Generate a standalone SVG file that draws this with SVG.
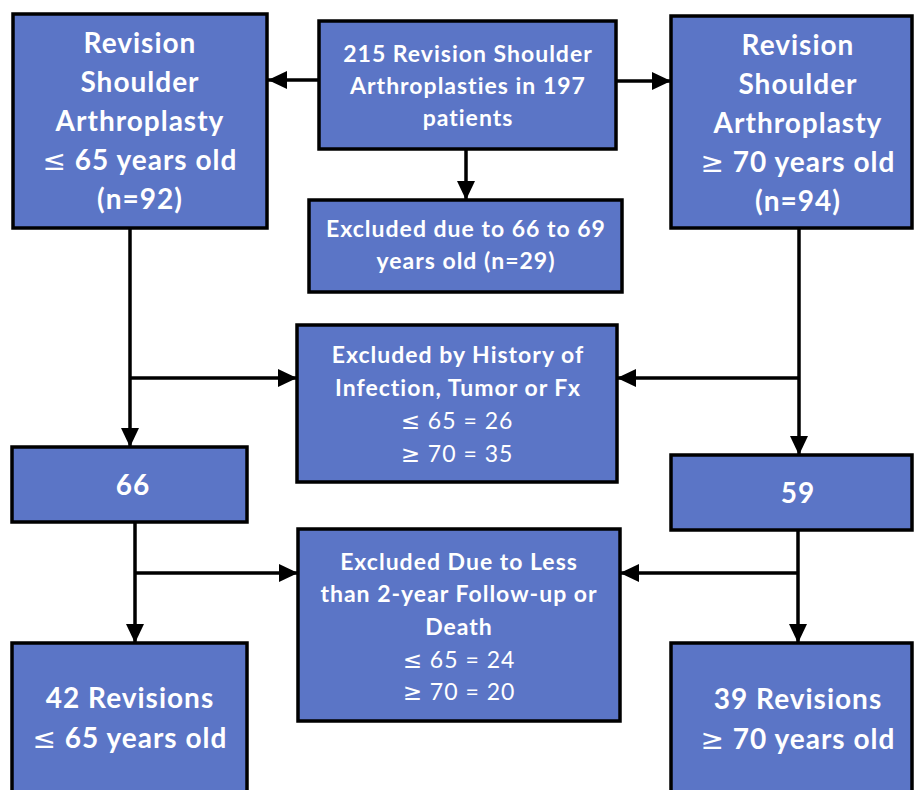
<svg xmlns="http://www.w3.org/2000/svg" width="915" height="790" viewBox="0 0 915 790">
<defs>
<marker id="ah" markerUnits="userSpaceOnUse" markerWidth="20" markerHeight="18" refX="19" refY="9" orient="auto">
<path d="M0,0 L19,9 L0,18 Z" fill="#000"/>
</marker>
<style>
.box{fill:#5B75C6;stroke:#000;stroke-width:3.5}
.t{font-family:Lato,"Liberation Sans",sans-serif;font-weight:bold;fill:#fff;text-anchor:middle}
.big{font-size:28px;letter-spacing:1px}
.sm{font-size:23px;letter-spacing:1px}
.reg{font-weight:normal}
.sym{font-family:"DejaVu Sans",sans-serif;font-weight:normal}
.c{fill:none;stroke:#000;stroke-width:3.5}
</style>
</defs>
<rect width="915" height="790" fill="#fff"/>
<g id="connectors">
<path class="c" d="M319,80 L268,80" marker-end="url(#ah)"/>
<path class="c" d="M617,81 L671,81" marker-end="url(#ah)"/>
<path class="c" d="M466,149 L466,200" marker-end="url(#ah)"/>
<path class="c" d="M130,229 L130,447" marker-end="url(#ah)"/>
<path class="c" d="M130,378 L297,378" marker-end="url(#ah)"/>
<path class="c" d="M799,228 L799,455" marker-end="url(#ah)"/>
<path class="c" d="M799,378 L617,378" marker-end="url(#ah)"/>
<path class="c" d="M135,522 L135,643" marker-end="url(#ah)"/>
<path class="c" d="M135,573 L298,573" marker-end="url(#ah)"/>
<path class="c" d="M798,530 L798,643" marker-end="url(#ah)"/>
<path class="c" d="M798,573 L620,573" marker-end="url(#ah)"/>
</g>
<g id="n_left_top">
<rect class="box" x="13" y="14" width="254" height="214"/>
<text class="t big" x="140" y="53">Revision</text>
<text class="t big" x="140" y="92">Shoulder</text>
<text class="t big" x="140" y="131">Arthroplasty</text>
<text class="t big" x="140" y="170"><tspan class="sym">≤</tspan> 65 years old</text>
<text class="t big" x="140" y="209">(n=92)</text>
</g>
<g id="n_center_top">
<rect class="box" x="319" y="21" width="297" height="128"/>
<text class="t sm" x="468" y="62">215 Revision Shoulder</text>
<text class="t sm" x="468" y="94">Arthroplasties in 197</text>
<text class="t sm" x="468" y="126">patients</text>
</g>
<g id="n_right_top">
<rect class="box" x="671" y="16" width="241" height="212"/>
<text class="t big" x="798" y="55">Revision</text>
<text class="t big" x="798" y="94">Shoulder</text>
<text class="t big" x="798" y="133">Arthroplasty</text>
<text class="t big" x="798" y="172"><tspan class="sym">≥</tspan> 70 years old</text>
<text class="t big" x="798" y="211">(n=94)</text>
</g>
<g id="n_excl_age">
<rect class="box" x="309" y="200" width="313" height="92"/>
<text class="t sm" x="466" y="237">Excluded due to 66 to 69</text>
<text class="t sm" x="466" y="269">years old (n=29)</text>
</g>
<g id="n_excl_infection">
<rect class="box" x="297" y="325" width="320" height="157"/>
<text class="t sm" x="458" y="363">Excluded by History of</text>
<text class="t sm" x="458" y="396">Infection, Tumor or Fx</text>
<text class="t sm reg" x="457" y="429"><tspan class="sym">≤</tspan>  65 = 26</text>
<text class="t sm reg" x="457" y="462"><tspan class="sym">≥</tspan> 70 = 35</text>
</g>
<g id="n_66">
<rect class="box" x="12" y="447" width="235" height="75"/>
<text class="t big" x="133" y="495">66</text>
</g>
<g id="n_59">
<rect class="box" x="671" y="455" width="241" height="75"/>
<text class="t big" x="798" y="503">59</text>
</g>
<g id="n_excl_followup">
<rect class="box" x="298" y="529" width="322" height="192"/>
<text class="t sm" x="459" y="570">Excluded Due to Less</text>
<text class="t sm" x="459" y="602">than 2-year Follow-up or</text>
<text class="t sm" x="459" y="635">Death</text>
<text class="t sm reg" x="459" y="668"><tspan class="sym">≤</tspan> 65 = 24</text>
<text class="t sm reg" x="459" y="700"><tspan class="sym">≥</tspan> 70 = 20</text>
</g>
<g id="n_42">
<rect class="box" x="12" y="643" width="235" height="160"/>
<text class="t big" x="130" y="708">42 Revisions</text>
<text class="t big" x="130" y="748"><tspan class="sym">≤</tspan> 65 years old</text>
</g>
<g id="n_39">
<rect class="box" x="671" y="643" width="241" height="160"/>
<text class="t big" x="798" y="709">39 Revisions</text>
<text class="t big" x="798" y="749"><tspan class="sym">≥</tspan> 70 years old</text>
</g>
</svg>
